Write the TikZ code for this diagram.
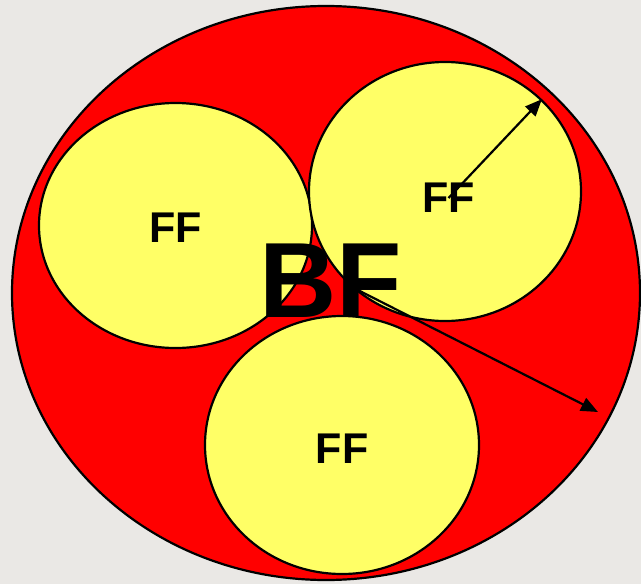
\documentclass[tikz,border=0pt]{standalone}
\usepackage{fontspec}
\setmainfont{Liberation Sans}
\usetikzlibrary{shapes.geometric,arrows.meta}
\definecolor{bggray}{RGB}{234,232,229}
\definecolor{bfred}{RGB}{255,0,0}
\definecolor{ffyellow}{RGB}{255,255,102}
\begin{document}
\begin{tikzpicture}[
    x=1pt, y=-1pt,
    outer/.style={ellipse, draw=black, line width=2.2pt, fill=bfred, inner sep=0pt, minimum width=628pt, minimum height=574pt},
    fiber/.style={ellipse, draw=black, line width=2.2pt, fill=ffyellow, inner sep=0pt},
    fflabel/.style={font=\fontsize{43}{48}\selectfont\bfseries, inner sep=0pt},
    bflabel/.style={font=\fontsize{107}{115}\selectfont\bfseries, inner sep=0pt},
    arr/.style={-{Triangle[length=17pt,width=14pt]}, line width=2.2pt},
]
    % Background and frame
    \useasboundingbox (0,0) rectangle (641,584);
    \fill[bggray] (0,0) rectangle (641,584);

    % Big red circle
    \node[outer] (bundle) at (326,293) {};

    % Three yellow circles
    \node[fiber, minimum width=273pt, minimum height=245pt] (ffl) at (175.5,225.5) {};
    \node[fiber, minimum width=272pt, minimum height=259pt] (ffr) at (445,191.5) {};
    \node[fiber, minimum width=274pt, minimum height=258pt] (ffb) at (342,445) {};

    % Labels
    \node[fflabel] (ffltext) at (175.5,227.5) {FF};
    \node[fflabel] (ffrtext) at (448.5,198) {FF};
    \node[fflabel] (ffbtext) at (342,448.5) {FF};
    \node[bflabel] (bf) at (331,280.5) {BF};

    % Radii
    \coordinate (bfroot) at (350,286);
    \coordinate (bftip) at (598,412);
    \draw[arr] (ffrtext.center) -- (ffr.north east);
    \draw[arr] (bfroot) -- (bftip);
\end{tikzpicture}
\end{document}
